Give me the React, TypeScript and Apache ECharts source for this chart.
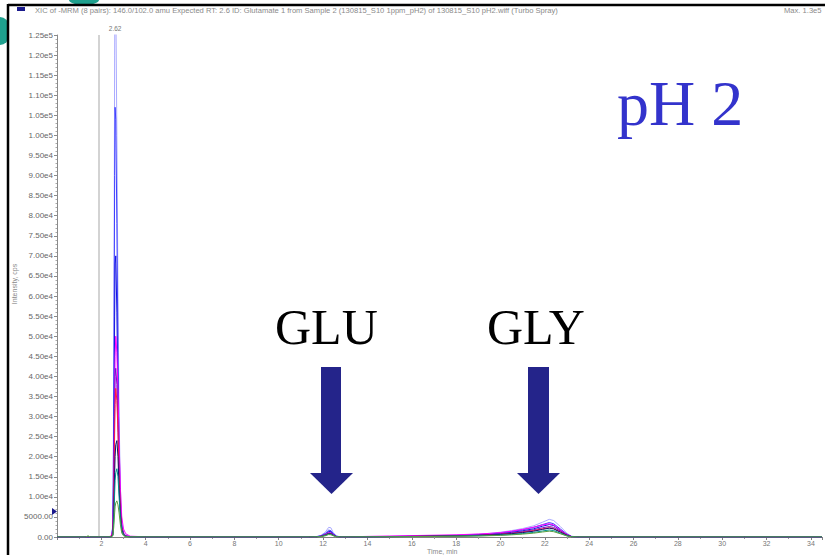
import React, { useEffect, useRef } from "react";
import * as echarts from "echarts";

// Retention time grid (min)
const times = [
  0, 1.3, 1.4, 1.5, 1.9, 2.3, 2.45, 2.52, 2.56, 2.6,
  2.62, 2.65, 2.7, 2.75, 2.8, 2.86, 2.92, 3.0, 3.1, 3.3,
  4.0, 6, 8, 10, 11.4, 11.7, 11.9, 12.1, 12.25, 12.35,
  12.45, 12.6, 12.8, 13.2, 14, 15, 16, 17, 18, 19,
  19.5, 20, 20.5, 21, 21.5, 21.9, 22.2, 22.4, 22.7, 23.0,
  23.2, 23.5, 25, 28, 31, 34.5,
];

// Intensities (cps) of the overlaid XIC traces
const traceLavender = [
  0, 0, 0, 0, 0, 0, 200, 3000, 40000, 120000,
  140000, 135000, 100000, 60000, 30000, 12000, 4000, 1200, 400, 100,
  0, 0, 0, 0, 0, 100, 400, 1200, 2400, 2300,
  1200, 300, 0, 0, 50, 150, 250, 350, 450, 700,
  900, 1200, 1600, 2100, 2800, 3700, 4400, 4100, 2600, 900,
  200, 0, 0, 0, 0, 0,
];
const traceBlue = [
  0, 0, 0, 0, 0, 0, 150, 2500, 30000, 90000,
  107000, 104000, 78000, 46000, 23000, 9000, 3000, 900, 300, 80,
  0, 0, 0, 0, 0, 80, 300, 900, 1700, 1600,
  900, 200, 0, 0, 40, 120, 200, 300, 400, 600,
  750, 1000, 1350, 1800, 2400, 3100, 3600, 3300, 2000, 700,
  150, 0, 0, 0, 0, 0,
];
const traceBlue2 = [
  0, 0, 0, 0, 0, 0, 100, 1500, 18000, 55000,
  68000, 70000, 56000, 34000, 17000, 7000, 2200, 700, 200, 50,
  0, 0, 0, 0, 0, 60, 200, 700, 1400, 1350,
  700, 150, 0, 0, 30, 100, 180, 260, 350, 500,
  650, 850, 1150, 1550, 2050, 2700, 3100, 2850, 1700, 600,
  120, 0, 0, 0, 0, 0,
];
const traceMagenta = [
  0, 0, 0, 0, 0, 0, 300, 2000, 14000, 36000,
  45000, 50000, 46000, 36000, 24000, 12000, 5000, 2000, 800, 200,
  50, 0, 0, 0, 0, 60, 200, 600, 1100, 1050,
  600, 150, 0, 50, 150, 250, 350, 450, 550, 750,
  900, 1100, 1450, 1900, 2450, 3000, 3300, 3000, 1800, 600,
  120, 0, 0, 0, 0, 0,
];
const tracePurple = [
  0, 0, 0, 0, 0, 0, 100, 1200, 12000, 32000,
  40000, 42000, 38000, 28000, 16000, 7000, 2500, 800, 250, 60,
  0, 0, 0, 0, 0, 50, 180, 550, 1000, 950,
  550, 120, 0, 0, 30, 90, 160, 230, 320, 450,
  580, 750, 1000, 1350, 1800, 2300, 2600, 2400, 1500, 500,
  100, 0, 0, 0, 0, 0,
];
const traceRed = [
  0, 0, 0, 0, 0, 0, 100, 1000, 9000, 26000,
  33000, 37000, 34000, 26000, 15000, 6500, 2200, 700, 200, 50,
  0, 0, 0, 0, 0, 40, 150, 500, 900, 860,
  500, 100, 0, 0, 30, 80, 140, 200, 280, 400,
  520, 680, 900, 1200, 1600, 2050, 2300, 2100, 1300, 450,
  80, 0, 0, 0, 0, 0,
];
const traceNavy = [
  0, 0, 0, 0, 0, 0, 50, 600, 6000, 16000,
  20000, 23000, 24000, 20000, 12000, 5500, 1800, 600, 150, 40,
  0, 0, 0, 0, 0, 40, 150, 450, 850, 800,
  450, 100, 0, 0, 30, 80, 140, 200, 270, 380,
  480, 620, 820, 1100, 1450, 1900, 2200, 2000, 1200, 400,
  80, 0, 0, 0, 0, 0,
];
const traceTeal = [
  0, 0, 0, 0, 0, 0, 40, 400, 4000, 11000,
  14000, 16000, 17000, 15000, 10000, 4500, 1500, 500, 120, 30,
  0, 0, 0, 0, 0, 30, 120, 400, 750, 700,
  400, 80, 0, 0, 20, 60, 110, 160, 220, 300,
  380, 480, 640, 860, 1150, 1500, 1750, 1600, 950, 300,
  60, 0, 0, 0, 0, 0,
];
const traceOlive = [
  0, 0, 300, 0, 0, 0, 30, 300, 2500, 6000,
  7500, 8500, 9000, 8000, 6000, 3000, 1000, 300, 80, 20,
  0, 0, 0, 0, 0, 20, 90, 300, 600, 560,
  320, 60, 0, 0, 20, 50, 90, 130, 180, 250,
  320, 400, 540, 720, 960, 1250, 1450, 1320, 800, 250,
  50, 0, 0, 0, 0, 0,
];

const traces = [
  { name: "lavender", color: "#a9a9ff", values: traceLavender },
  { name: "blue", color: "#4040ff", values: traceBlue },
  { name: "blue2", color: "#1515e0", values: traceBlue2 },
  { name: "magenta", color: "#ff00ff", values: traceMagenta },
  { name: "purple", color: "#7a10c8", values: tracePurple },
  { name: "red", color: "#ff1a44", values: traceRed },
  { name: "navy", color: "#101070", values: traceNavy },
  { name: "teal", color: "#00908c", values: traceTeal },
  { name: "olive", color: "#5aa040", values: traceOlive },
];

const apexTime = 2.62;
const markerTime = 1.9;
const yMax = 125000;

const headerText =
  "XIC of -MRM (8 pairs): 146.0/102.0 amu Expected RT: 2.6 ID: Glutamate 1 from Sample 2 (130815_S10 1ppm_pH2) of 130815_S10 pH2.wiff (Turbo Spray)";
const maxText = "Max. 1.3e5";

function fmtY(v: number) {
  if (v === 0) return "0.00";
  if (v < 10000) return v.toFixed(2);
  return v.toExponential(2).replace("e+", "e");
}

export default function App() {
  const ref = useRef<HTMLDivElement>(null);
  useEffect(() => {
    if (!ref.current) return;
    const chart = echarts.init(ref.current, undefined, { renderer: "svg" });
    const arrowColor = "#24248a";
    const series: any[] = traces.map((tr, idx) => {
      const s: any = {
        type: "line",
        name: tr.name,
        data: times.map((t, i) => [t, tr.values[i]]),
        showSymbol: false,
        symbol: "none",
        silent: true,
        lineStyle: { color: tr.color, width: 1 },
        z: 2 + idx,
      };
      if (idx === 0) {
        s.markLine = {
          silent: true,
          symbol: ["none", "none"],
          label: { show: false },
          lineStyle: { color: "#c4c4c4", width: 1.5, type: "solid" },
          data: [{ xAxis: markerTime }],
        };
      }
      if (idx === 1) {
        s.markPoint = {
          silent: true,
          symbol: "circle",
          symbolSize: 1,
          itemStyle: { color: "rgba(0,0,0,0)" },
          label: {
            show: true,
            position: "top",
            distance: 3,
            formatter: String(apexTime),
            fontSize: 6.5,
            color: "#777",
            fontFamily: "Liberation Sans",
          },
          data: [{ coord: [apexTime, yMax] }],
        };
      }
      return s;
    });

    chart.setOption({
      animation: false,
      backgroundColor: "#ffffff",
      grid: { left: 57, right: 0, top: 35, bottom: 18, containLabel: false },
      xAxis: {
        type: "value",
        min: 0,
        max: 34.5,
        interval: 2,
        axisLine: { show: true, lineStyle: { color: "#808080", width: 1 } },
        axisTick: { show: true, length: 3, lineStyle: { color: "#808080" } },
        minorTick: { show: true, splitNumber: 2, length: 2, lineStyle: { color: "#999" } },
        splitLine: { show: false },
        axisLabel: {
          formatter: (v: number) => (v === 0 || v > 34 ? "" : String(v)),
          fontSize: 7,
          color: "#777",
          margin: 3,
          fontFamily: "Liberation Sans",
        },
      },
      yAxis: {
        type: "value",
        min: 0,
        max: yMax,
        interval: 5000,
        axisLine: { show: true, lineStyle: { color: "#8a8a8a", width: 1 } },
        axisTick: { show: true, length: 3, lineStyle: { color: "#8a8a8a" } },
        minorTick: { show: true, splitNumber: 5, length: 1.5, lineStyle: { color: "#aaa" } },
        splitLine: { show: false },
        axisLabel: {
          formatter: fmtY,
          fontSize: 8,
          color: "#666",
          margin: 4,
          fontFamily: "Liberation Sans",
        },
      },
      series,
      graphic: [
        // slide decorations
        { type: "ellipse", shape: { cx: 84, cy: 0, rx: 15, ry: 5 }, style: { fill: "#1fa08e" }, z: 0 },
        { type: "rect", shape: { x: 0, y: 17, width: 9, height: 28, r: [0, 10, 10, 0] }, style: { fill: "#1fa08e" }, z: 0 },
        // frame
        { type: "line", shape: { x1: 8, y1: 5, x2: 825, y2: 5 }, style: { stroke: "#000", lineWidth: 2.5 }, z: 10 },
        { type: "line", shape: { x1: 8, y1: 4, x2: 8, y2: 555 }, style: { stroke: "#000", lineWidth: 2.5 }, z: 10 },
        // header
        { type: "rect", shape: { x: 17, y: 7, width: 8, height: 4 }, style: { fill: "#1a1a8c" }, z: 10 },
        {
          type: "text", x: 35, y: 10,
          style: { text: headerText, fontSize: 7.6, fill: "#8a8a8a", fontFamily: "Liberation Sans", verticalAlign: "middle", align: "left" },
          z: 10,
        },
        {
          type: "text", x: 784, y: 10,
          style: { text: maxText, fontSize: 7.6, fill: "#8a8a8a", fontFamily: "Liberation Sans", verticalAlign: "middle", align: "left" },
          z: 10,
        },
        // axis titles
        {
          type: "text", x: 14, y: 284, rotation: Math.PI / 2,
          style: { text: "Intensity, cps", fontSize: 7, fill: "#8a8a8a", fontFamily: "Liberation Sans", align: "center", verticalAlign: "middle" },
        },
        {
          type: "text", x: 427, y: 551.5,
          style: { text: "Time, min", fontSize: 7, fill: "#8a8a8a", fontFamily: "Liberation Sans", align: "left", verticalAlign: "middle" },
        },
        // y-axis marker
        { type: "polygon", shape: { points: [[52, 508], [57, 511.5], [52, 515]] }, style: { fill: "#1a1a8c" } },
        // annotations
        {
          type: "text", x: 617, y: 103.5,
          style: { text: "pH 2", fontSize: 64, fill: "#3333cc", fontFamily: "Liberation Serif", align: "left", verticalAlign: "middle" },
        },
        {
          type: "text", x: 275, y: 326.5,
          style: { text: "GLU", fontSize: 50, fill: "#000", fontFamily: "Liberation Serif", align: "left", verticalAlign: "middle" },
        },
        {
          type: "text", x: 487, y: 326.5,
          style: { text: "GLY", fontSize: 50, fill: "#000", fontFamily: "Liberation Serif", align: "left", verticalAlign: "middle" },
        },
        { type: "rect", shape: { x: 321, y: 367, width: 20, height: 107 }, style: { fill: arrowColor } },
        { type: "polygon", shape: { points: [[310, 473], [353, 473], [331.5, 494]] }, style: { fill: arrowColor } },
        { type: "rect", shape: { x: 528, y: 367, width: 21, height: 107 }, style: { fill: arrowColor } },
        { type: "polygon", shape: { points: [[517, 473], [560, 473], [538.5, 494]] }, style: { fill: arrowColor } },
      ],
    });
    return () => chart.dispose();
  }, []);
  return (
    <div
      ref={ref}
      style={{ position: "fixed", left: 0, top: 0, width: 825, height: 555, background: "#fff" }}
    />
  );
}
